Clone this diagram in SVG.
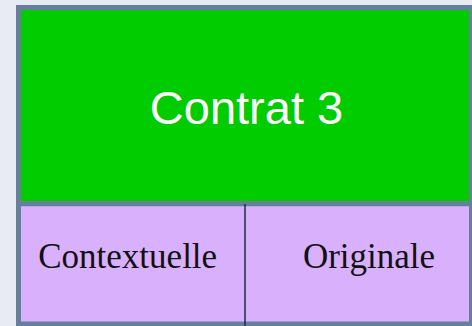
<svg xmlns="http://www.w3.org/2000/svg" width="472" height="326" viewBox="0 0 472 326">
<style>
.frame{stroke:#66809c;stroke-width:5}
.serif{font-family:"Liberation Serif","Times New Roman",serif;font-size:35px;fill:#111111;text-anchor:middle}
</style>
<rect x="0" y="0" width="472" height="326" fill="#e8ebf3"/>
<g id="contrat3">
<rect class="frame" x="18.5" y="7.5" width="453" height="196.25" fill="#00cc00"/>
<text x="246.5" y="124" font-family="'Liberation Sans',Arial,sans-serif" font-size="47" fill="#ffffff" text-anchor="middle">Contrat 3</text>
</g>
<g id="bottom">
<rect class="frame" x="18.5" y="203.75" width="453" height="120.25" fill="#d9b0fc"/>
</g>
<g id="connectors">
<line x1="245" y1="204" x2="245" y2="326" stroke="#1f2b45" stroke-width="1.5"/>
</g>
<g id="contextuelle">
<text class="serif" x="127.7" y="268">Contextuelle</text>
</g>
<g id="originale">
<text class="serif" x="369" y="268">Originale</text>
</g>
</svg>
